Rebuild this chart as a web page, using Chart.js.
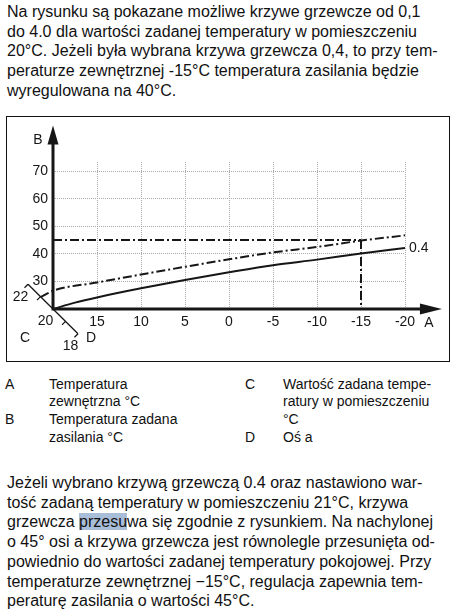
<!DOCTYPE html>
<html lang="pl">
<head>
<meta charset="utf-8">
<title>Krzywe grzewcze</title>
<script src="https://cdn.jsdelivr.net/npm/chart.js@4.4.1/dist/chart.umd.min.js"></script>
<style>
  body {
    margin: 0;
    width: 457px;
    height: 612px;
    position: relative;
    overflow: hidden;
    background: #fff;
    color: #111;
    font-family: "Liberation Sans", Arial, sans-serif;
    font-size: 16px;
  }
  .para {
    position: absolute;
    left: 7px;
    line-height: 19.7px;
    white-space: nowrap;
  }
  .box {
    position: absolute;
    left: 6px;
    top: 116px;
    width: 444px;
    height: 246px;
    border: 1.4px solid #111;
    box-sizing: border-box;
  }
  .chart {
    position: absolute;
    left: 7px;
    top: 117px;
    width: 442px;
    height: 244px;
  }
  .legend div {
    position: absolute;
    font-size: 14px;
    line-height: 17.8px;
    white-space: nowrap;
  }
  .sel { background: #a8bdd7; }
</style>
</head>
<body>

<div class="para" style="top:2px">
  <div>Na rysunku są pokazane możliwe krzywe grzewcze od 0,1</div>
  <div>do 4.0 dla wartości zadanej temperatury w pomieszczeniu</div>
  <div>20°C. Jeżeli była wybrana krzywa grzewcza 0,4, to przy tem-</div>
  <div>peraturze zewnętrznej -15°C temperatura zasilania będzie</div>
  <div>wyregulowana na 40°C.</div>
</div>

<div class="box"></div>
<div class="chart"><canvas id="heatChart"></canvas></div>

<div class="legend">
  <div style="left:5px;top:375.5px">A</div>
  <div style="left:49px;top:375.5px">Temperatura</div>
  <div style="left:49px;top:392.5px">zewnętrzna °C</div>
  <div style="left:5px;top:411.3px">B</div>
  <div style="left:49px;top:411.3px">Temperatura zadana</div>
  <div style="left:49px;top:429px">zasilania °C</div>
  <div style="left:245px;top:375.5px">C</div>
  <div style="left:283px;top:375.5px">Wartość zadana tempe-</div>
  <div style="left:283px;top:392.5px">ratury w pomieszczeniu</div>
  <div style="left:283px;top:411.3px">°C</div>
  <div style="left:245px;top:429px">D</div>
  <div style="left:283px;top:429px">Oś a</div>
</div>

<div class="para" style="top:473px">
  <div>Jeżeli wybrano krzywą grzewczą 0.4 oraz nastawiono war-</div>
  <div>tość zadaną temperatury w pomieszczeniu 21°C, krzywa</div>
  <div>grzewcza <span class="sel">przesu</span>wa się zgodnie z rysunkiem. Na nachylonej</div>
  <div>o 45° osi a krzywa grzewcza jest równolegle przesunięta od-</div>
  <div>powiednio do wartości zadanej temperatury pokojowej. Przy</div>
  <div>temperaturze zewnętrznej −15°C, regulacja zapewnia tem-</div>
  <div>peraturę zasilania o wartości 45°C.</div>
</div>

<script>
const xTicks = [20, 15, 10, 5, 0, -5, -10, -15, -20];
const yTicks = [20, 30, 40, 50, 60, 70];

// krzywa 0.4 dla 20°C w pomieszczeniu
const outdoorTemps = [20, 17.5, 15, 10, 5, 0, -5, -10, -15, -20];
const curve20 = [20, 22.3, 24.2, 27.5, 30.5, 33.3, 35.9, 37.9, 40.1, 42.1];

// ta sama krzywa przesunięta dla 21°C
const outdoorTemps21 = [21.4, 20, 15, 10, 5, 0, -5, -10, -15, -20];
const curve21 = [24.3, 26.6, 29.6, 32.5, 35.3, 38, 40.5, 42.5, 44.8, 46.7];

// odczyt przy -15°C
const readOutdoor = -15;
const readSupply = 45;

// oś a (45°) - wartości zadane w pomieszczeniu
const roomTemps = [22, 21, 20, 19, 18];
const roomLabels = [22, 20, 18];
const roomStepX = 1.42;   // przesunięcie w °C zewn. na 1°C pokojowej
const roomStepY = 4.5;    // przesunięcie w °C zasilania na 1°C pokojowej

const axisEndX = -24.2;
const axisEndY = 86.5;

const ink = '#161616';
const gridColor = '#ababab';
const dashDot = [9, 3, 2, 3];
const font = '14px "Liberation Sans", Arial, sans-serif';

Chart.defaults.font.family = '"Liberation Sans", Arial, sans-serif';
Chart.defaults.font.size = 14;
Chart.defaults.color = ink;

function toPoints(xs, ys) {
    return xs.map(function (x, i) { return { x: x, y: ys[i] }; });
}

const decorations = {
    id: 'decorations',
    afterDraw(chart) {
        const ctx = chart.ctx;
        const x = chart.scales.x;
        const y = chart.scales.y;
        const ox = x.getPixelForValue(20);
        const oy = y.getPixelForValue(20);
        const tipX = x.getPixelForValue(axisEndX);
        const tipY = y.getPixelForValue(axisEndY);

        ctx.save();
        ctx.strokeStyle = ink;
        ctx.fillStyle = ink;

        // oś a
        const roomPx = function (r) {
            return [x.getPixelForValue(20 + (r - 20) * roomStepX),
                    y.getPixelForValue(20 + (r - 20) * roomStepY)];
        };
        const first = roomPx(roomTemps[0]);
        const last = roomPx(roomTemps[roomTemps.length - 1]);
        ctx.lineWidth = 1.3;
        ctx.beginPath();
        ctx.moveTo(first[0], first[1]);
        ctx.lineTo(last[0], last[1]);
        roomTemps.forEach(function (r) {
            if (r === 20) return;
            const p = roomPx(r);
            ctx.moveTo(p[0], p[1]);
            ctx.lineTo(p[0] - 3.5, p[1] + 3.5);
        });
        ctx.stroke();

        // osie ze strzałkami
        ctx.lineWidth = 3;
        ctx.beginPath();
        ctx.moveTo(ox - 1.5, oy);
        ctx.lineTo(tipX - 18, oy);
        ctx.moveTo(ox, oy + 1.5);
        ctx.lineTo(ox, tipY + 16);
        ctx.stroke();
        ctx.beginPath();
        ctx.moveTo(tipX, oy);
        ctx.lineTo(tipX - 22, oy - 5.5);
        ctx.lineTo(tipX - 22, oy + 5.5);
        ctx.closePath();
        ctx.fill();
        ctx.beginPath();
        ctx.moveTo(ox, tipY);
        ctx.lineTo(ox - 5.5, tipY + 19);
        ctx.lineTo(ox + 5.5, tipY + 19);
        ctx.closePath();
        ctx.fill();

        // opisy
        ctx.font = font;
        ctx.textAlign = 'center';
        ctx.textBaseline = 'middle';
        roomLabels.forEach(function (r) {
            const p = roomPx(r);
            ctx.fillText(String(r), p[0] - 7.5, p[1] + 12.5);
        });
        ctx.fillText('C', ox - 28, oy + 29);
        ctx.fillText('D', last[0] + 13, last[1] + 4);
        ctx.fillText('B', ox - 15, tipY + 15);
        ctx.fillText('A', tipX - 13, oy + 14);

        const endIdx = outdoorTemps.length - 1;
        ctx.textAlign = 'left';
        ctx.fillText('0.4', x.getPixelForValue(outdoorTemps[endIdx]) + 4,
                     y.getPixelForValue(curve20[endIdx]));
        ctx.restore();
    }
};

const ctx = document.getElementById('heatChart').getContext('2d');
const heatChart = new Chart(ctx, {
    type: 'line',
    data: {
        datasets: [{
            label: '0.4 (20°C)',
            data: toPoints(outdoorTemps, curve20),
            borderColor: ink,
            borderWidth: 2,
            pointRadius: 0,
            cubicInterpolationMode: 'monotone',
            capBezierPoints: false
        }, {
            label: '0.4 (21°C)',
            data: toPoints(outdoorTemps21, curve21),
            borderColor: ink,
            borderWidth: 2,
            borderDash: dashDot,
            pointRadius: 0,
            cubicInterpolationMode: 'monotone',
            capBezierPoints: false,
            clip: false
        }, {
            label: 'zasilanie 45°C',
            data: [{ x: 20, y: readSupply }, { x: readOutdoor, y: readSupply }],
            borderColor: ink,
            borderWidth: 2,
            borderDash: dashDot,
            pointRadius: 0
        }, {
            label: '-15°C',
            data: [{ x: readOutdoor, y: readSupply }, { x: readOutdoor, y: 20 }],
            borderColor: ink,
            borderWidth: 2,
            borderDash: dashDot,
            pointRadius: 0
        }]
    },
    options: {
        responsive: true,
        maintainAspectRatio: false,
        animation: false,
        events: [],
        layout: {
            padding: { top: 45, right: 44, left: 0, bottom: 0 }
        },
        plugins: {
            legend: { display: false },
            tooltip: { enabled: false }
        },
        scales: {
            x: {
                type: 'linear',
                reverse: true,
                min: -20,
                max: 20,
                afterBuildTicks: function (scale) {
                    scale.ticks = xTicks.map(function (v) { return { value: v }; });
                },
                afterFit: function (scale) { scale.height = 52; },
                grid: { color: gridColor, lineWidth: 1, drawTicks: false },
                border: { display: false, dash: [1, 1] },
                ticks: {
                    padding: 5,
                    autoSkip: false,
                    maxRotation: 0,
                    callback: function (v) { return v === 20 ? '' : String(v); }
                }
            },
            y: {
                min: 20,
                max: 73.3,
                afterBuildTicks: function (scale) {
                    scale.ticks = yTicks.map(function (v) { return { value: v }; });
                },
                afterFit: function (scale) { scale.width = 46; },
                grid: { color: gridColor, lineWidth: 1, drawTicks: false },
                border: { display: false, dash: [1, 1] },
                ticks: {
                    padding: 5,
                    callback: function (v) { return v === 20 ? '' : String(v); }
                }
            }
        }
    },
    plugins: [decorations]
});
</script>
</body>
</html>
